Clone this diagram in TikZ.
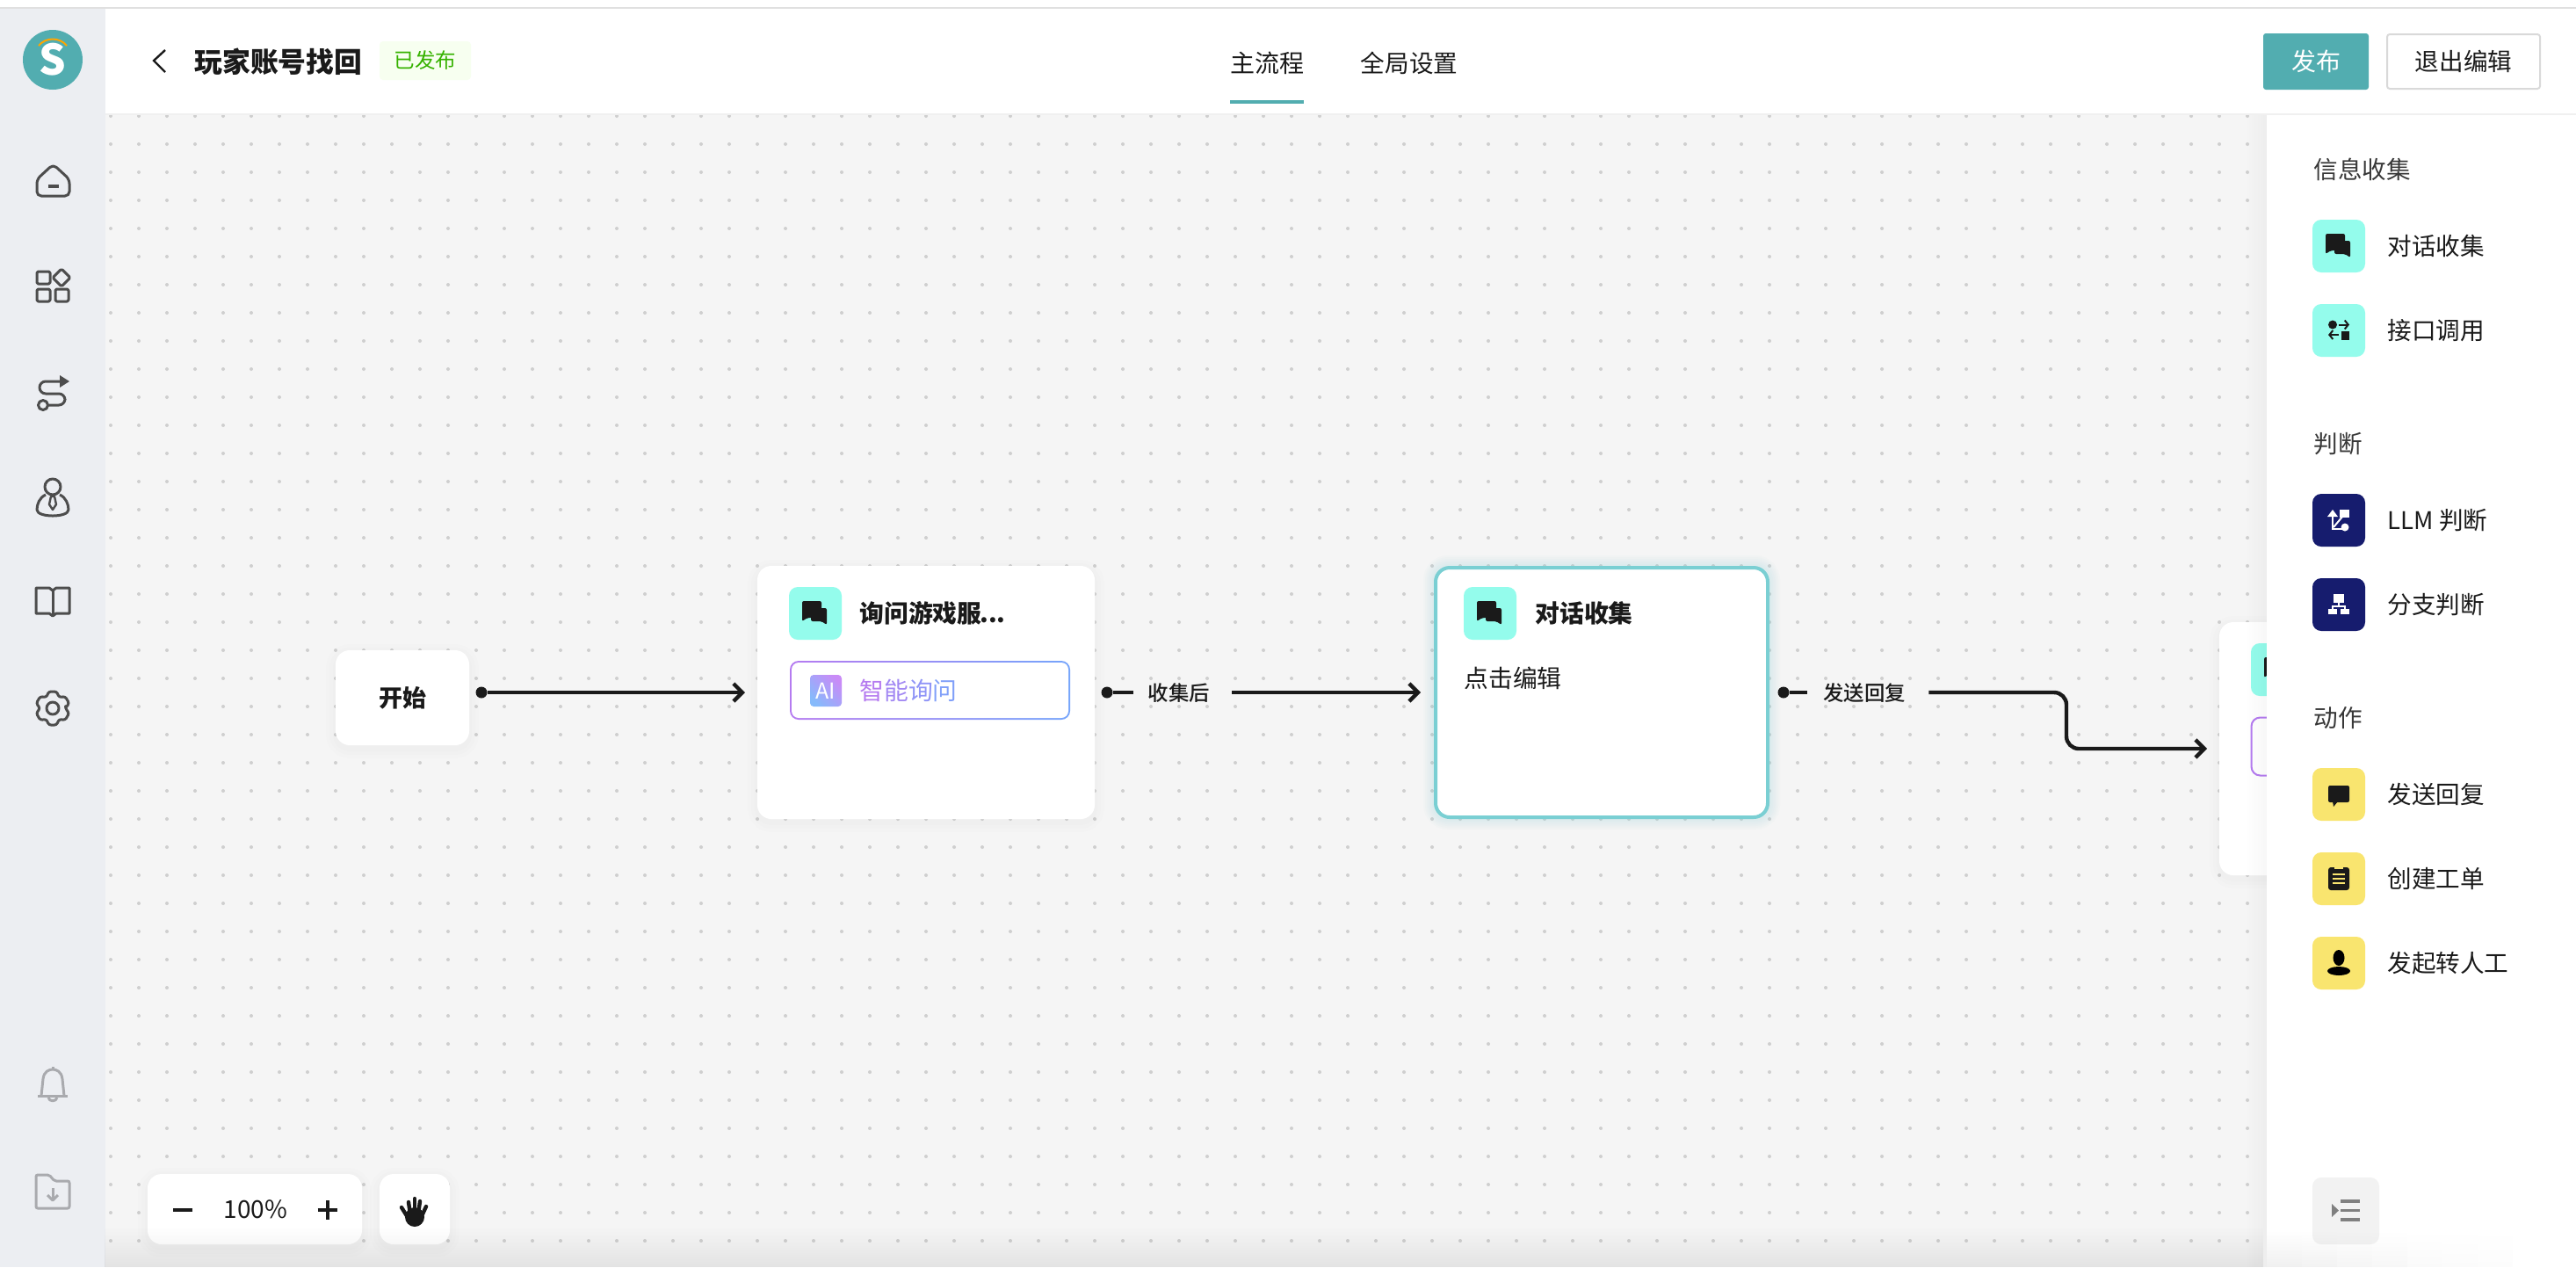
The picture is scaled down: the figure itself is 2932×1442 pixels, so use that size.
\documentclass[tikz,border=0pt]{standalone}
\usepackage{fontspec}
\setmainfont{Noto Sans CJK SC}
\newfontface\mediumface{Noto Sans CJK SC Medium}
\usetikzlibrary{arrows.meta,fadings}

\definecolor{brandteal}{HTML}{52ADB0}
\definecolor{sidebg}{HTML}{ECEEF2}
\definecolor{canvasbg}{HTML}{F5F5F5}
\definecolor{griddot}{HTML}{CFCFCF}
\definecolor{inkdark}{HTML}{1A1A1A}
\definecolor{iconline}{HTML}{4D4D4D}
\definecolor{iconfaint}{HTML}{A9AAAE}
\definecolor{tilecyan}{HTML}{94FCEC}
\definecolor{tilenavy}{HTML}{161C6E}
\definecolor{tileyellow}{HTML}{F9E56F}
\definecolor{focusring}{HTML}{7ACFD3}
\definecolor{aipurple}{HTML}{B57BF0}
\definecolor{aiblue}{HTML}{76A5FB}
\definecolor{aitilefrom}{HTML}{C98BF7}
\definecolor{aitileto}{HTML}{86BAFB}

\newcommand{\fs}[1]{\fontsize{#1pt}{#1pt}\selectfont}
\tikzfading[name=fadedown,top color=transparent!100,bottom color=transparent!0]
\tikzfading[name=faderight,left color=transparent!100,right color=transparent!0]

\tikzset{
  card/.style={rectangle,fill=white,rounded corners=8pt,inner sep=0pt,outer sep=0pt},
  tile/.style={rectangle,rounded corners=5pt,minimum size=30pt,inner sep=0pt,outer sep=0pt},
  portdot/.style={circle,fill=inkdark,minimum size=6.5pt,inner sep=0pt},
  flowline/.style={draw=inkdark,line width=2.2pt},
  flowarrow/.style={flowline,-{Straight Barb[length=5pt,width=10pt]},shorten >=7pt},
  edgelabel/.style={font=\mediumface\fs{11.7},text=inkdark,inner sep=0pt,minimum height=12pt},
  itemlabel/.style={anchor=west,font=\fs{13.8},text=inkdark,inner sep=0pt},
  grouplabel/.style={anchor=west,font=\fs{13.8},text=black!78,inner sep=0pt},
  sideicon/.style={draw=iconline,line width=1.5pt,line join=round},
  faintline/.style={draw=iconfaint,line width=1.5pt,line join=round},
  chaticon/.pic={
    \fill[inkdark,rounded corners=1pt] (-15,-14) -- (7,-14) -- (7,5) -- (-9,5) -- (-15,9) -- cycle;
    \fill[inkdark,rounded corners=1pt] (-5,-6) -- (13,-6) -- (13,13) -- (7,9) -- (-5,9) -- cycle;
  }
}

\begin{document}
\begin{tikzpicture}[x=0.5pt,y=-0.5pt]
  \useasboundingbox (0,0) rectangle (2932,1442);
  \fill[white] (0,0) rectangle (2932,1442);
  \fill[black!12] (0,8) rectangle (2932,10);
  \fill[canvasbg] (120,130) rectangle (2580,1442);
  \fill[sidebg] (0,10) rectangle (120,1442);

  \foreach \i in {0,...,76}
    \foreach \j in {0,...,40}
      \fill[griddot] (126+32*\i,132+32*\j) circle (2);

  \foreach \xa/\ya/\xb/\yb in {382/740/534/848,862/644/1246/932,2526/708/2910/996,168/1336/412/1416,432/1336/512/1416}
    \foreach \w in {6,14,22}
      \draw[black,opacity=.008,line width=\w*.5pt,rounded corners=8pt] (\xa,\ya+4) rectangle (\xb,\yb+4);
  \foreach \w in {4,8,...,24}
    \draw[focusring,opacity=.03,line width=\w*.5pt,rounded corners=8pt] (1632,644) rectangle (2014,932);

  \node[card,minimum width=76pt,minimum height=54pt,font=\bfseries\fs{13.5},text=inkdark] (start) at (458,794) {开始};

  \node[card,minimum width=192pt,minimum height=144pt] (ask) at (1054,788) {};
  \node[tile,fill=tilecyan] (asktile) at (928,698) {};
  \pic at (asktile.center) {chaticon};
  \node[anchor=west,font=\bfseries\fs{13.9},text=inkdark,inner sep=0pt] (asktitle) at (978,698) {询问游戏服\kern-1pt...};
  \node[rectangle,rounded corners=5pt,minimum width=159.5pt,minimum height=33.5pt,inner sep=0pt,left color=aipurple,right color=aiblue] (askai) at (1058.5,785.5) {};
  \node[rectangle,fill=white,rounded corners=4pt,minimum width=157.5pt,minimum height=31.5pt,inner sep=0pt] (askaiin) at (askai.center) {};
  \node[rectangle,rounded corners=2pt,minimum size=18pt,inner sep=0pt,shade,shading=axis,left color=aitilefrom,right color=aitileto,shading angle=-45,text=white,font=\fs{12.5}] (askaitile) at (940,786) {AI};
  \node[anchor=west,font=\fs{13.9},inner sep=0pt] (askaitext) at (978,786) {{\color{aipurple}智}{\color{aipurple!70!aiblue}能}{\color{aipurple!40!aiblue}询}{\color{aipurple!15!aiblue}问}};

  \node[card,draw=focusring,line width=2pt,minimum width=189pt,minimum height=142pt] (collect) at (1823,788) {};
  \node[tile,fill=tilecyan] (collecttile) at (1696,698) {};
  \pic at (collecttile.center) {chaticon};
  \node[anchor=west,font=\bfseries\fs{13.9},text=inkdark,inner sep=0pt] (collecttitle) at (1747,698) {对话收集};
  \node[anchor=west,font=\fs{13.9},text=inkdark,inner sep=0pt] (collecthint) at (1666,772) {点击编辑};

  \node[card,minimum width=192pt,minimum height=144pt] (reply) at (2718,852) {};
  \node[tile,fill=tilecyan] (replytile) at (2592,762) {};
  \pic at (replytile.center) {chaticon};
  \node[rectangle,draw=aipurple,line width=1pt,fill=white,rounded corners=5pt,minimum width=159pt,minimum height=33pt,inner sep=0pt] (replyai) at (2721.5,849.5) {};

  \node[portdot] (port1) at (548,788) {};
  \node[portdot] (port2) at (1260,788) {};
  \node[portdot] (port3) at (2030,788) {};
  \node[edgelabel,minimum width=56pt,text depth=0pt,xshift=-2pt] (afterlabel) at (1346,788) {收集后};
  \node[edgelabel,minimum width=69pt,text depth=0pt,xshift=-2pt] (sendlabel) at (2126,788) {发送回复};
  \coordinate (bend) at (2352,788);

  \draw[flowarrow] (port1) -- (ask.west);
  \draw[flowline] (port2) -- ([xshift=2pt]afterlabel.west);
  \draw[flowarrow,shorten >=8.5pt] ([xshift=2pt]afterlabel.east) -- (collect.west);
  \draw[flowline] (port3) -- ([xshift=2pt]sendlabel.west);
  \draw[flowarrow,rounded corners=7pt] ([xshift=2pt]sendlabel.east) -- (bend) |- (reply.west);

  \fill[black,opacity=.03,path fading=faderight] (2555,130) rectangle (2580,1442);
  \fill[white] (2580,130) rectangle (2932,1442);
  \fill[white] (120,10) rectangle (2932,130);
  \fill[black!6] (120,129) rectangle (2932,131);

  \node[circle,fill=brandteal,minimum size=34pt,inner sep=0pt,text=white,font=\bfseries\fs{24}] (logo) at (60,68) {S};
  \draw[draw=orange!70!yellow,line width=1pt] (44,52) .. controls (52,42) and (68,42) .. (76,52);

  \draw[inkdark,line width=1.2pt] (188,57) -- (175,69) -- (188,82);
  \node[anchor=west,font=\bfseries\fs{15.9},text=inkdark,inner sep=0pt] (title) at (221,70) {玩家账号找回};
  \node[rectangle,fill=green!40!lime!6,rounded corners=2pt,minimum width=52pt,minimum height=22pt,inner sep=0pt,font=\fs{11.75},text=green!60!lime!70!black] (badge) at (484,69) {已发布};
  \node[font=\fs{14},text=inkdark,inner sep=0pt] (tabmain) at (1442,72) {主流程};
  \fill[brandteal] (1400,114) rectangle (1484,118);
  \node[font=\fs{13.8},text=inkdark,inner sep=0pt] (tabglobal) at (1604,72) {全局设置};
  \node[rectangle,fill=brandteal,rounded corners=1.5pt,minimum width=60pt,minimum height=32pt,inner sep=0pt,text=white,font=\fs{14}] (publish) at (2636,70) {发布};
  \node[rectangle,draw=black!15,line width=1pt,fill=white,rounded corners=1.5pt,minimum width=87pt,minimum height=31pt,inner sep=0pt,text=inkdark,font=\fs{13.8}] (leave) at (2804,70) {退出编辑};

  \draw[sideicon,rounded corners=2.5pt] (60.5,187) -- (79,204) -- (79,223) -- (42,223) -- (42,204) -- cycle;
  \draw[iconline,line width=2pt] (55,212) -- (67,212);
  \draw[sideicon,rounded corners=.8pt] (42,309) rectangle (57,323);
  \draw[sideicon,rounded corners=.8pt] (42,329) rectangle (57,343);
  \draw[sideicon,rounded corners=.8pt] (63,329) rectangle (78,343);
  \draw[sideicon,rounded corners=.8pt] (70,306) -- (80,316) -- (70,326) -- (60,316) -- cycle;
  \draw[sideicon,rounded corners=3.5pt] (68,434) -- (45,434) -- (45,448) -- (74,448) -- (74,461) -- (55,461);
  \fill[iconline] (68,427) -- (79,434) -- (68,441) -- cycle;
  \draw[sideicon] (49,461) circle (5.5);
  \draw[sideicon] (60,554) circle (9);
  \draw[sideicon] (52,563) .. controls (45,566) and (42,574) .. (42,580) .. controls (42,585) and (52,587) .. (60,587) .. controls (68,587) and (78,585) .. (78,580) .. controls (78,574) and (75,566) .. (68,563);
  \draw[sideicon,line width=1.2pt] (58,565) -- (62,565) -- (64,574) -- (60,580) -- (56,574) -- cycle;
  \draw[sideicon] (41,669) -- (41,698) -- (56,698) -- (60,701) -- (64,698) -- (79,698) -- (79,669) -- (64,669) -- (60,672) -- (56,669) -- cycle;
  \draw[sideicon] (60,672) -- (60,700);
  \begin{scope}[shift={(60,806)}]
    \draw[sideicon,rounded corners=1.2pt] (0:14.5) \foreach \a in {30,90,...,330} { -- (\a-13:19.5) -- (\a+13:19.5) -- (\a+30:14.5) } -- cycle;
    \draw[sideicon] (0,0) circle (7);
  \end{scope}
  \draw[faintline] (47,1247) -- (49,1228) .. controls (50,1219) and (56,1217) .. (60,1217) .. controls (64,1217) and (70,1219) .. (71,1228) -- (73,1247);
  \draw[faintline] (43,1247) -- (77,1247);
  \draw[faintline] (60,1214) -- (60,1217);
  \draw[faintline] (55,1249) .. controls (56,1254) and (64,1254) .. (65,1249);
  \draw[faintline,rounded corners=1pt] (41,1337) -- (56,1337) -- (62,1344) -- (79,1344) -- (79,1375) -- (41,1375) -- cycle;
  \draw[faintline] (60,1352) -- (60,1366);
  \draw[faintline] (54,1360) -- (60,1366) -- (66,1360);

  \node[grouplabel] (groupinfo) at (2633,193) {信息收集};
  \node[tile,fill=tilecyan] (tilechat) at (2662,280) {};
  \pic at (tilechat.center) {chaticon};
  \node[itemlabel] (itemchat) at (2717,280) {对话收集};
  \node[tile,fill=tilecyan] (tileapi) at (2662,376) {};
  \fill[inkdark] (2655,369.5) circle (5);
  \draw[inkdark,line width=1pt,-{Straight Barb[length=2pt,width=5pt]}] (2662,369.5) -- (2674,369.5);
  \draw[inkdark,line width=1pt,-{Straight Barb[length=2pt,width=5pt]}] (2662,381) -- (2650,381);
  \fill[inkdark] (2665,376.5) rectangle (2674,386.5);
  \node[itemlabel] (itemapi) at (2717,376) {接口调用};

  \node[grouplabel] (groupjudge) at (2633,505) {判断};
  \node[tile,fill=tilenavy] (tilellm) at (2662,592) {};
  \draw[white,line width=1pt] (2655,586) -- (2655,602) -- (2666,602);
  \fill[white] (2649,588) -- (2655,580) -- (2661,588) -- cycle;
  \draw[white,line width=1pt] (2656,600) -- (2666,588);
  \fill[white] (2663,580) rectangle (2674,589);
  \fill[white] (2669,600) circle (4.5);
  \node[itemlabel] (itemllm) at (2717,592) {LLM 判断};
  \node[tile,fill=tilenavy] (tilebranch) at (2662,688) {};
  \fill[white] (2656,676) rectangle (2668,686);
  \draw[white,line width=1pt] (2662,686) -- (2662,690) (2655,693) -- (2655,690) -- (2669,690) -- (2669,693);
  \fill[white] (2650,693) rectangle (2660,699);
  \fill[white] (2664,693) rectangle (2674,699);
  \node[itemlabel] (itembranch) at (2717,688) {分支判断};

  \node[grouplabel] (groupaction) at (2633,817) {动作};
  \node[tile,fill=tileyellow] (tilesend) at (2662,904) {};
  \fill[inkdark,rounded corners=1pt] (2650,894) rectangle (2674,913);
  \fill[inkdark] (2655,912) -- (2661,912) -- (2656,918) -- cycle;
  \node[itemlabel] (itemsend) at (2717,904) {发送回复};
  \node[tile,fill=tileyellow] (tileticket) at (2662,1000) {};
  \fill[inkdark,rounded corners=1.5pt] (2650,987) rectangle (2674,1013);
  \fill[tileyellow] (2657,986) rectangle (2667,989);
  \foreach \yy in {995,1000,1005}
    \draw[tileyellow,line width=.6pt] (2655,\yy) -- (2669,\yy);
  \node[itemlabel] (itemticket) at (2717,1000) {创建工单};
  \node[tile,fill=tileyellow] (tilehuman) at (2662,1096) {};
  \fill[black] (2662,1090) ellipse (6.5 and 9);
  \fill[black] (2662,1105) ellipse (13 and 5);
  \node[itemlabel] (itemhuman) at (2717,1096) {发起转人工};

  \node[tile,fill=black!5,minimum width=38pt,minimum height=38pt] (collapse) at (2670,1378) {};
  \fill[black!50] (2654,1370) -- (2662,1377.5) -- (2654,1385) -- cycle;
  \foreach \yy in {1367,1377.5,1388}
    \draw[black!50,line width=1.8pt] (2664,\yy) -- (2686,\yy);

  \node[card,minimum width=122pt,minimum height=40pt] (zoombar) at (290,1376) {};
  \draw[inkdark,line width=2pt] (197,1377) -- (219,1377);
  \node[font=\fs{14},text=inkdark,inner sep=0pt] (zoomvalue) at (291,1376) {100\%};
  \draw[inkdark,line width=2pt] (361.5,1377) -- (383.5,1377) (372.5,1366) -- (372.5,1388);
  \node[card,minimum width=40pt,minimum height=40pt] (handbox) at (472,1376) {};
  \fill[inkdark] (472,1385) ellipse (11 and 11);
  \foreach \xa/\ya/\xb/\yb in {457/1374/467/1390,465/1368/467/1382,472/1364/472/1382,478/1367/476/1382,485/1373/479/1386}
    \draw[inkdark,line width=2.2pt,line cap=round] (\xa,\ya) -- (\xb,\yb);

  \fill[black,opacity=.07,path fading=fadedown] (120,1395) rectangle (2580,1442);
  \foreach \xs/\op in {2580/.06,2620/.05,2660/.04,2700/.03,2740/.02,2780/.015,2820/.01}
    \fill[black,opacity=\op,path fading=fadedown] (\xs,1400) rectangle (\xs+40,1442);
\end{tikzpicture}
\end{document}
